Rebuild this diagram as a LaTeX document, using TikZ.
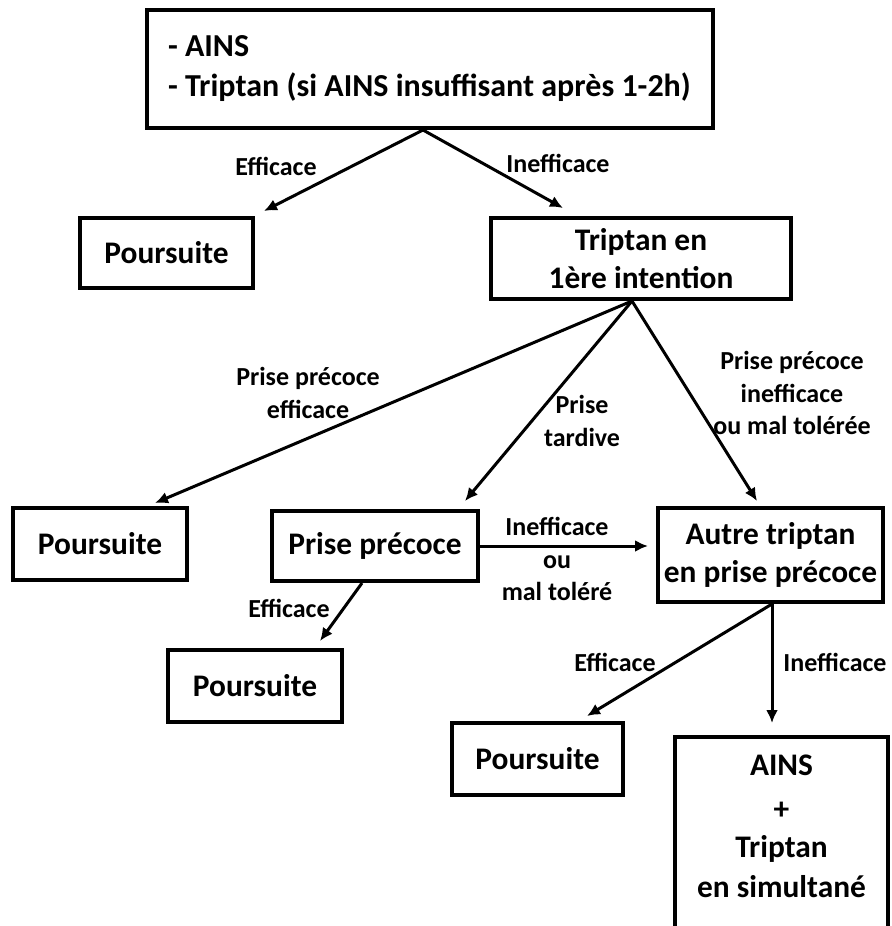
\documentclass[tikz,border=0pt]{standalone}
\usepackage{fontspec}
\setmainfont{Carlito}
\usepackage{tikz}
\usetikzlibrary{arrows.meta}
\tikzset{>={Latex[width=6pt,length=6.5pt]}}
\tikzset{
  boite/.style={draw,line width=2pt,inner sep=0pt,align=center,font=\bfseries\fontsize{15.7}{19}\selectfont},
  etiq/.style={inner sep=0pt,align=center,font=\bfseries\fontsize{13}{16.3}\selectfont},
  fleche/.style={->,line width=1.5pt}
}

\begin{document}
\begin{tikzpicture}[x=0.5pt,y=-0.5pt]
\useasboundingbox (0,0) rectangle (892,926);

\path (430,69) node [boite,minimum width=283pt,minimum height=59pt,text width=262pt,align=flush left,font=\bfseries\fontsize{16}{20}\selectfont] (debut) {\mbox{- AINS}\\\mbox{- Triptan (si AINS insuffisant après 1-2h)}};

\path (166.5,253) node [boite,minimum width=86.5pt,minimum height=35pt] (pours1) {Poursuite};

\path (641,258.5) node [boite,minimum width=150pt,minimum height=40.5pt] (triptan) {Triptan en\\1ère intention};

\path (100,544) node [boite,minimum width=87pt,minimum height=36pt] (pours2) {Poursuite};

\path (375,546) node [boite,minimum width=103pt,minimum height=35pt] (precoce) {Prise précoce};

\path (770.5,555) node [boite,minimum width=112.5pt,minimum height=47pt] (autre) {Autre triptan\\en prise précoce};

\path (255,686) node [boite,minimum width=87pt,minimum height=36pt] (pours3) {Poursuite};

\path (537.5,759) node [boite,minimum width=85.5pt,minimum height=36pt] (pours4) {Poursuite};

\path (781.5,735) node [boite,anchor=north,minimum width=106.5pt,inner ysep=9pt,text depth=120pt,font=\bfseries\fontsize{15.7}{20}\selectfont] (simult) {AINS\\[2pt]+\\[-1pt]Triptan\\en simultané};

\path (276,166) node [etiq] (lEff1) {Efficace};
\path (558,163) node [etiq] (lIneff1) {Inefficace};
\path (308,393) node [etiq] (lPrecEff) {Prise précoce\\efficace};
\path (582,421) node [etiq] (lTardive) {Prise\\tardive};
\path (792,393) node [etiq] (lPrecIneff) {Prise précoce\\inefficace\\ou mal tolérée};
\path (557,559) node [etiq] (lMalTol) {Inefficace\\ou\\mal toléré};
\path (289,608) node [etiq] (lEff2) {Efficace};
\path (615,662) node [etiq] (lEff3) {Efficace};
\path (835,662) node [etiq] (lIneff3) {Inefficace};

\draw[fleche] ([xshift=-3.5pt]debut.south) -- ([shift={(4.5pt,2.5pt)}]pours1.north east);
\draw[fleche] ([xshift=-3.5pt]debut.south) -- ([shift={(37pt,4pt)}]triptan.north west);

\draw[fleche] ([xshift=-4.5pt]triptan.south) -- ([shift={(-17pt,1.5pt)}]pours2.north east);
\draw[fleche] ([xshift=-4.5pt]triptan.south) -- ([shift={(-7.5pt,4pt)}]precoce.north east);
\draw[fleche] ([xshift=-4.5pt]triptan.south) -- ([shift={(-6.75pt,2.5pt)}]autre.north);

\draw[fleche,shorten >=4pt] (precoce.east) -- (precoce.east -| autre.west);
\draw[fleche] ([xshift=-6.5pt]precoce.south) -- ([shift={(-12pt,3.5pt)}]pours3.north east);

\draw[fleche] ([xshift=0.75pt]autre.south) -- ([shift={(-19pt,2.5pt)}]pours4.north east);
\draw[fleche,shorten >=6pt] ([xshift=0.75pt]autre.south) -- ([xshift=0.75pt]autre.south |- simult.north);

\end{tikzpicture}
\end{document}
